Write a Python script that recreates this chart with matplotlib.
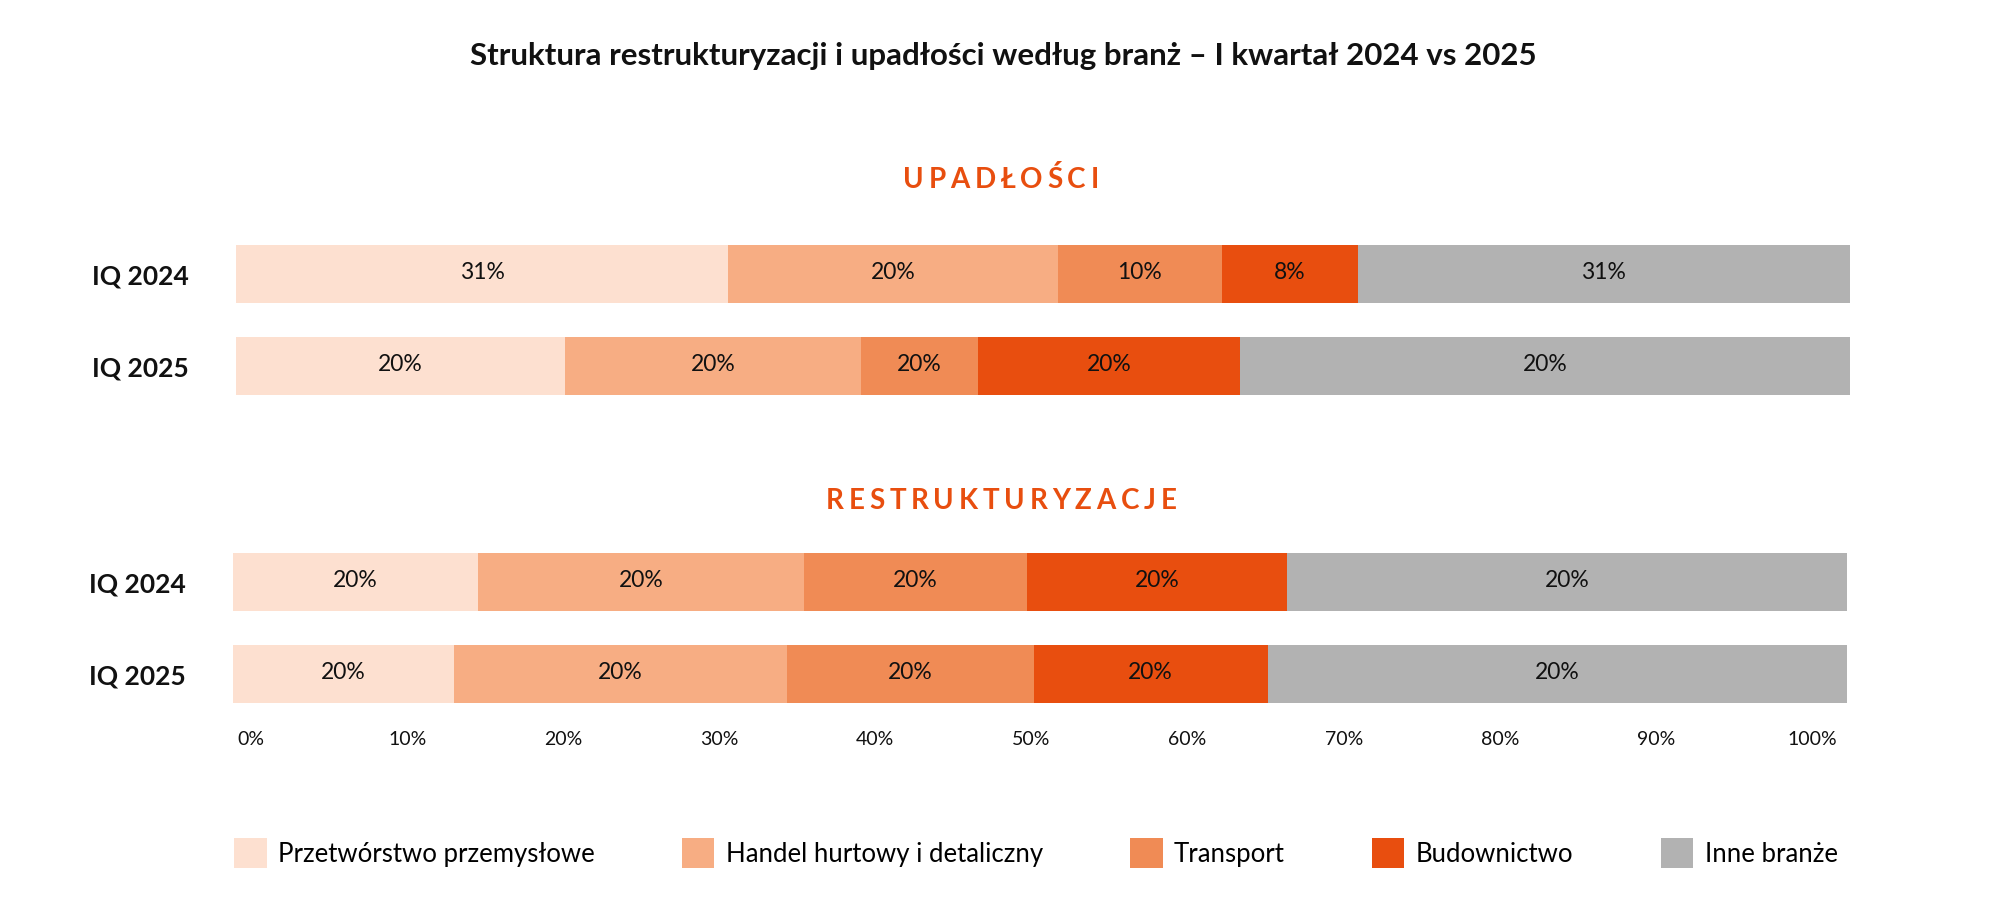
import matplotlib
matplotlib.use('Agg')
import matplotlib.pyplot as plt
from matplotlib.patches import Patch
import numpy as np

plt.rcParams['font.family'] = ['Lato', 'DejaVu Sans']

title = "Struktura restrukturyzacji i upadłości według branż – I kwartał 2024 vs 2025"
section_titles = ["UPADŁOŚCI", "RESTRUKTURYZACJE"]
categories = ["Przetwórstwo przemysłowe", "Handel hurtowy i detaliczny",
              "Transport", "Budownictwo", "Inne branże"]
colors = ["#FDE0D0", "#F7AD83", "#F08B55", "#E84E0F", "#B2B2B2"]
periods = ["IQ 2024", "IQ 2025"]

# Segment widths (share, %) as drawn in the chart
upadlosci_2024 = [30.5, 20.4, 10.2, 8.4, 30.5]
upadlosci_2025 = [20.4, 18.3, 7.3, 16.2, 37.8]
restr_2024 = [15.2, 20.2, 13.8, 16.1, 34.7]
restr_2025 = [13.7, 20.6, 15.3, 14.5, 35.9]

# Labels as printed in the chart
upadlosci_labels_2024 = ["31%", "20%", "10%", "8%", "31%"]
upadlosci_labels_2025 = ["20%", "20%", "20%", "20%", "20%"]
restr_labels_2024 = ["20%", "20%", "20%", "20%", "20%"]
restr_labels_2025 = ["20%", "20%", "20%", "20%", "20%"]

tick_values = [0, 10, 20, 30, 40, 50, 60, 70, 80, 90, 100]
tick_labels = ["0%", "10%", "20%", "30%", "40%", "50%", "60%", "70%", "80%", "90%", "100%"]

W, H = 2000, 913
fig = plt.figure(figsize=(W / 100, H / 100), dpi=100)
fig.patch.set_facecolor('white')

def px_axes(left, top, right, bottom):
    return fig.add_axes([left / W, 1 - bottom / H, (right - left) / W, (bottom - top) / H])

def draw_group(ax, rows, labels):
    for r, (vals, labs) in enumerate(zip(rows, labels)):
        left = 0.0
        for c, (v, lab) in enumerate(zip(vals, labs)):
            ax.barh(r, v, left=left, height=0.64, color=colors[c], edgecolor='none')
            ax.text(left + v / 2, r - 0.02, lab, ha='center', va='center',
                    fontsize=16.5, color='#111111')
            left += v
    ax.set_xlim(0, 100)
    ax.set_ylim(1.5, -0.5)
    ax.set_yticks([0, 1])
    ax.set_yticklabels(periods, fontsize=19, fontweight='bold', color='#111111')
    ax.tick_params(axis='y', length=0, pad=34)
    ax.set_xticks([])
    for s in ax.spines.values():
        s.set_visible(False)
    ax.set_facecolor('none')

ax1 = px_axes(236, 228, 1850, 412)
draw_group(ax1, [upadlosci_2024, upadlosci_2025],
           [upadlosci_labels_2024, upadlosci_labels_2025])
ax2 = px_axes(233, 536, 1847, 720)
draw_group(ax2, [restr_2024, restr_2025],
           [restr_labels_2024, restr_labels_2025])

# tick label axis
axt = px_axes(251, 700, 1812, 731)
axt.set_xlim(0, 100)
axt.set_ylim(0, 1)
axt.set_xticks(tick_values)
axt.set_xticklabels(tick_labels, fontsize=14, color='#111111')
axt.tick_params(axis='x', length=0, pad=0)
axt.set_yticks([])
for s in axt.spines.values():
    s.set_visible(False)
axt.set_facecolor('none')

fig.text(1003 / W, 1 - 56 / H, title, ha='center', va='center', fontsize=22.5,
         fontweight='bold', color='#111111')

renderer = fig.canvas.get_renderer()

def tracked_text(xc_px, yc_px, s, tracking, **kw):
    def width(txt):
        if not txt:
            return 0.0
        t = fig.text(0, 0, txt, **kw)
        w = t.get_window_extent(renderer).width
        t.remove()
        return w
    total = width(s) + tracking * (len(s) - 1)
    x0 = xc_px - total / 2
    for i, ch in enumerate(s):
        xi = x0 + width(s[:i]) + tracking * i
        fig.text(xi / W, 1 - yc_px / H, ch, ha='left', va='center', **kw)

tracked_text(1001, 180, section_titles[0], 4.8, fontsize=20, fontweight='bold', color='#E84E0F')
tracked_text(1001, 501, section_titles[1], 4.8, fontsize=20, fontweight='bold', color='#E84E0F')

handles = [Patch(facecolor=c, edgecolor='none', label=l) for c, l in zip(colors, categories)]
fig.legend(handles=handles, loc='center', bbox_to_anchor=(1036 / W, 1 - 853 / H),
           ncol=5, frameon=False, fontsize=18.5, handlelength=1.25, handleheight=1.4,
           handletextpad=0.45, columnspacing=3.4)

fig.savefig('out.png', dpi=100, facecolor='white')
